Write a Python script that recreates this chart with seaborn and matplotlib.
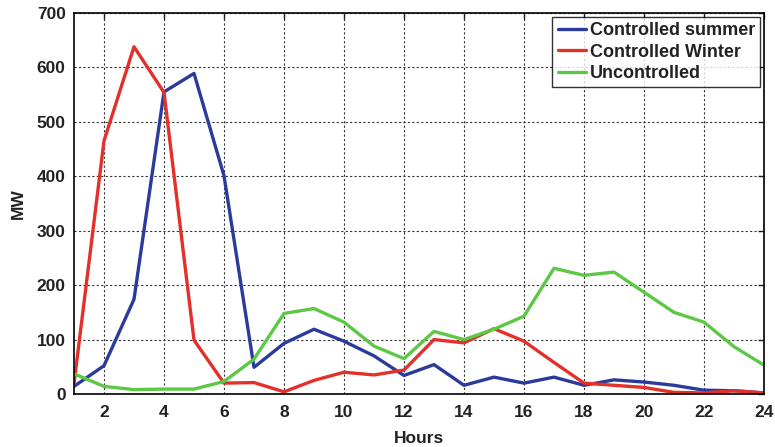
import numpy as np
import pandas as pd
import matplotlib
matplotlib.use("Agg")
import matplotlib.pyplot as plt
import seaborn as sns

hours = list(range(1, 25))
controlled_summer = [14, 52, 174, 555, 589, 401, 49, 93, 119, 97, 70, 34,
                     54, 16, 31, 20, 31, 16, 26, 22, 16, 7, 6, 2]
controlled_winter = [19, 465, 638, 554, 99, 20, 21, 4, 25, 40, 35, 44,
                     100, 94, 120, 97, 58, 20, 16, 12, 3, 2, 6, 2]
uncontrolled = [37, 14, 8, 9, 9, 23, 64, 148, 157, 132, 88, 65,
                115, 100, 119, 143, 231, 218, 224, 187, 150, 132, 87, 53]
series_names = ["Controlled summer", "Controlled Winter", "Uncontrolled"]
colors = ["#2B3B9C", "#E3302A", "#5CC845"]
x_ticks = list(range(2, 25, 2))
y_ticks = list(range(0, 701, 100))

df = pd.DataFrame({
    "Hours": hours * 3,
    "MW": controlled_summer + controlled_winter + uncontrolled,
    "series": [series_names[0]] * 24 + [series_names[1]] * 24 + [series_names[2]] * 24,
})

sns.set_style("white")
plt.rcParams["font.family"] = ["Liberation Sans", "DejaVu Sans"]
plt.rcParams["font.weight"] = "bold"

fig = plt.figure(figsize=(7.75, 4.47), dpi=100)
ax = fig.add_axes([74 / 775, 1 - 394 / 447, (764 - 74) / 775, (394 - 13) / 447])

sns.lineplot(data=df, x="Hours", y="MW", hue="series", palette=colors,
             hue_order=series_names, linewidth=2.4, ax=ax)

ax.set_xlim(1, 24)
ax.set_ylim(0, 700)
ax.set_xticks(x_ticks)
ax.set_yticks(y_ticks)
ax.grid(True, color="#333333", linestyle=(0, (2, 2)), linewidth=0.8)
ax.tick_params(axis="x", pad=8)
ax.tick_params(axis="y", pad=6)
ax.tick_params(direction="in", length=4, width=1, top=True, right=True,
               labelsize=12.5, colors="#222222")
for lbl in ax.get_xticklabels() + ax.get_yticklabels():
    lbl.set_fontweight("bold")
for sp in ax.spines.values():
    sp.set_color("black")
    sp.set_linewidth(1.2)
ax.set_xlabel("Hours", fontsize=12.5, fontweight="bold", color="#222222", labelpad=8)
ax.set_ylabel("MW", fontsize=12.5, fontweight="bold", color="#222222", labelpad=8)

leg = ax.legend(loc="upper right", frameon=True, fancybox=False,
                edgecolor="black", handlelength=1.55, handletextpad=0.22,
                borderpad=0.3, labelspacing=0.25, borderaxespad=0.2,
                prop={"weight": "bold", "size": 13})
leg.get_frame().set_linewidth(1.0)
for t in leg.get_texts():
    t.set_color("#222222")

fig.savefig("out.png", dpi=100)
